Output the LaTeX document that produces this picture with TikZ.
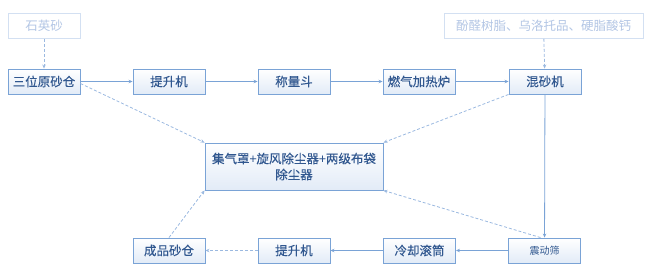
\documentclass[tikz,border=0pt]{standalone}
\usepackage{fontspec}
\setmainfont{Noto Sans CJK SC}[AutoFakeBold=0.2]
\usetikzlibrary{arrows.meta}
\definecolor{bline}{HTML}{7AA3D6}
\definecolor{btext}{HTML}{30578F}
\definecolor{bfill}{HTML}{E2EBF7}
\definecolor{lline}{HTML}{D3E0F2}
\definecolor{ltext}{HTML}{B3C6E5}
\definecolor{dline}{HTML}{9BB9E0}
\begin{document}
\begin{tikzpicture}[x=1pt,y=-1pt,
  box/.style={draw=bline,line width=0.9pt,top color=white,bottom color=bfill,text=btext,
    minimum width=72pt,minimum height=25pt,inner sep=1pt,font=\fontsize{12.5}{16}\selectfont\bfseries},
  srcbox/.style={box,draw=lline,top color=white,bottom color=white,text=ltext,font=\fontsize{12.5}{16}\selectfont},
  arr/.style={bline,line width=0.8pt,-{Stealth[length=4pt,width=3.5pt]}},
  darr/.style={dline,line width=0.8pt,dash pattern=on 3pt off 2pt,-{Stealth[length=4pt,width=3.5pt]}}]
\useasboundingbox (0,0) rectangle (650,279);
% raw materials
\node[srcbox](sys)at(44,26){石英砂};
\node[srcbox,minimum width=199pt](fz)at(543.5,26){酚醛树脂、乌洛托品、硬脂酸钙};
% upper line
\node[box](ysc)at(44,81.5){三位原砂仓};
\node[box](tsj)at(169,81.5){提升机};
\node[box](clf)at(294,81.5){称量斗};
\node[box](rql)at(419,81.5){燃气加热炉};
\node[box](hsj)at(545,81.5){混砂机};
% dust collector
\node[box,minimum width=178pt,minimum height=47pt,align=center](cc)at(294,166.5){集气罩+旋风除尘器+两级布袋\\除尘器};
% lower line
\node[box](cpsc)at(169,250.5){成品砂仓};
\node[box](tsj2)at(294,250.5){提升机};
\node[box](lqgt)at(419.5,250.5){冷却滚筒};
\node[box,font=\fontsize{10}{12}\selectfont](zds)at(544.5,250.5){震动筛};
\draw[darr](sys)--(ysc);\draw[darr](fz)--(hsj);
\draw[arr](ysc)--(tsj);\draw[arr](tsj)--(clf);\draw[arr](clf)--(rql);\draw[arr](rql)--(hsj);
\draw[arr](hsj)--(zds);
\draw[arr](zds)--(lqgt);\draw[arr](lqgt)--(tsj2);
\draw[darr](tsj2)--(cpsc);
% dust
\draw[darr]([yshift=-2pt]ysc.east)--(cc.north west);
\draw[darr](hsj.south west)--(cc.north east);
\draw[darr](cpsc.north)--(cc.south west);
\draw[darr]([xshift=-4pt]zds.north)--(cc.south east);
\end{tikzpicture}
\end{document}
